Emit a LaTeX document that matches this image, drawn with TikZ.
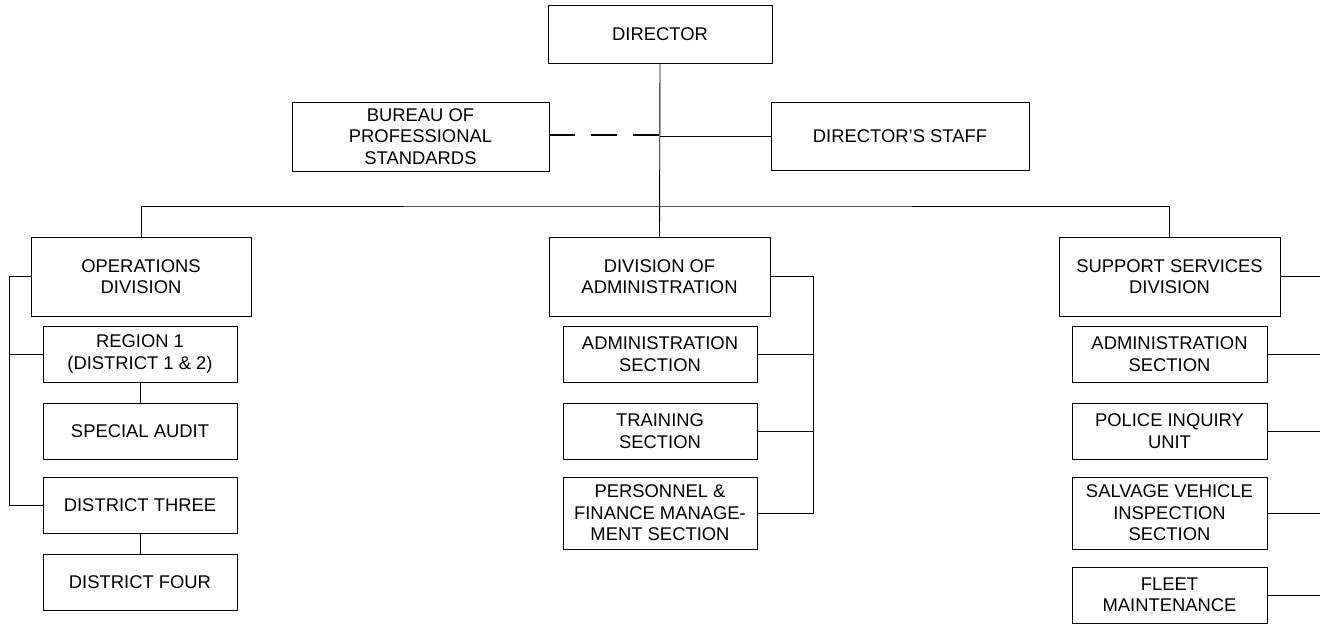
\documentclass[tikz,border=0pt]{standalone}
\usepackage{fontspec}
\setmainfont{Liberation Sans}
\begin{document}
\begin{tikzpicture}[x=1pt,y=-1pt,
  unitbox/.style={draw, line width=0.9pt, inner sep=0pt, align=center,
    font=\fontsize{18.4}{21.5}\selectfont},
  link/.style={line width=0.9pt},
  dotted link/.style={line width=2pt, dash pattern=on 26pt off 16pt}]
\useasboundingbox (0,0) rectangle (1320,624);

% top level
\node[unitbox, minimum width=224pt, minimum height=58pt] (dir) at (660,34) {DIRECTOR};
\node[unitbox, minimum width=257pt, minimum height=69pt] (bps) at (420.5,136.5) {BUREAU OF\\PROFESSIONAL\\STANDARDS};
\node[unitbox, minimum width=258pt, minimum height=68pt] (staff) at (900,136) {DIRECTOR’S STAFF};

% divisions
\node[unitbox, minimum width=220pt, minimum height=79pt] (ops) at (141,276.5) {OPERATIONS\\DIVISION};
\node[unitbox, minimum width=221pt, minimum height=79pt] (doa) at (659.5,276.5) {DIVISION OF\\ADMINISTRATION};
\node[unitbox, minimum width=221pt, minimum height=79pt] (ssd) at (1169.5,276.5) {SUPPORT SERVICES\\DIVISION};

% operations units
\node[unitbox, minimum width=194pt, minimum height=56pt] (reg1) at (140,354) {REGION 1\\(DISTRICT 1 \& 2)};
\node[unitbox, minimum width=194pt, minimum height=56pt] (audit) at (140,431) {SPECIAL AUDIT};
\node[unitbox, minimum width=194pt, minimum height=56pt] (d3) at (140,505) {DISTRICT THREE};
\node[unitbox, minimum width=194pt, minimum height=56pt] (d4) at (140,582) {DISTRICT FOUR};

% administration units
\node[unitbox, minimum width=194pt, minimum height=56pt] (adm) at (660,354) {ADMINISTRATION\\SECTION};
\node[unitbox, minimum width=194pt, minimum height=56pt] (trn) at (660,431) {TRAINING\\SECTION};
\node[unitbox, minimum width=194pt, minimum height=72pt] (pfm) at (660,513) {PERSONNEL \&\\FINANCE MANAGE-\\MENT SECTION};

% support services units
\node[unitbox, minimum width=195pt, minimum height=56pt] (sadm) at (1169.5,354) {ADMINISTRATION\\SECTION};
\node[unitbox, minimum width=195pt, minimum height=56pt] (piu) at (1169.5,431) {POLICE INQUIRY\\UNIT};
\node[unitbox, minimum width=195pt, minimum height=72pt] (svi) at (1169.5,513) {SALVAGE VEHICLE\\INSPECTION\\SECTION};
\node[unitbox, minimum width=195pt, minimum height=56pt] (fleet) at (1169.5,595) {FLEET\\MAINTENANCE};

% bracket rails and the division bus
\coordinate (bus) at (660,206);
\coordinate (lrail) at (9,0);
\coordinate (mrail) at (813,0);
\coordinate (rrail) at (1320,0);

% director down to the divisions
\draw[link] (dir.south) -- (doa.north);
\draw[link] (dir.south |- staff.west) -- (staff.west);
\draw[dotted link] (bps.east |- 0,135) -- (dir.south |- 0,135);
\draw[link] (ops.north) |- (bus) -| (ssd.north);

% operations division
\draw[link] (ops.west) -- (ops.west -| lrail) -- (d3.west -| lrail) -- (d3.west);
\draw[link] (reg1.west -| lrail) -- (reg1.west);
\draw[link] (reg1.south) -- (audit.north);
\draw[link] (d3.south) -- (d4.north);

% division of administration
\draw[link] (doa.east) -- (doa.east -| mrail) -- (pfm.east -| mrail) -- (pfm.east);
\draw[link] (adm.east) -- (adm.east -| mrail);
\draw[link] (trn.east) -- (trn.east -| mrail);

% support services division
\draw[link] (ssd.east) -- (ssd.east -| rrail);
\draw[link] (sadm.east) -- (sadm.east -| rrail);
\draw[link] (piu.east) -- (piu.east -| rrail);
\draw[link] (svi.east) -- (svi.east -| rrail);
\draw[link] (fleet.east) -- (fleet.east -| rrail);
\end{tikzpicture}
\end{document}
